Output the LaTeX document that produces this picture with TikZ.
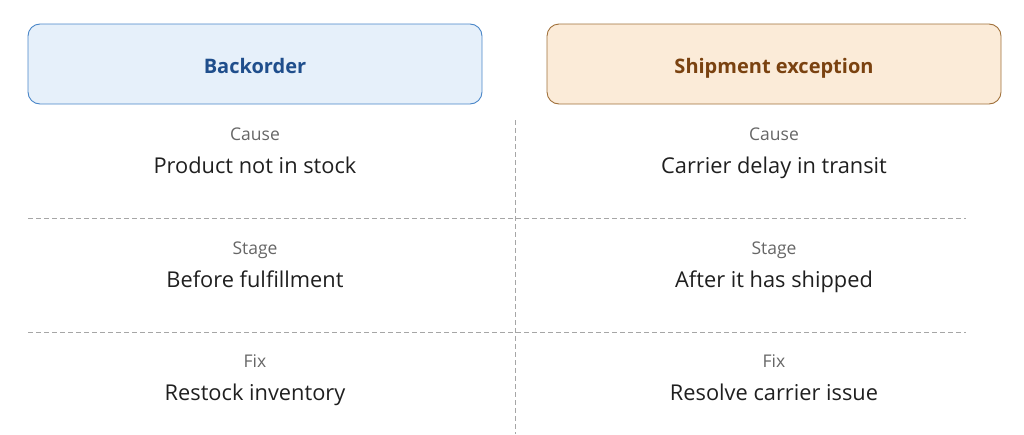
\documentclass[tikz,border=0pt]{standalone}
\usepackage{fontspec}
\setmainfont{Open Sans}
\begin{document}
\begin{tikzpicture}[x=1pt,y=-1pt,
  lab/.style={anchor=base,text=black!60,font=\fontsize{17.5}{20}\selectfont},
  val/.style={anchor=base,text=black!88,font=\fontsize{21.8}{25}\selectfont},
  ttl/.style={anchor=base,font=\bfseries\fontsize{20}{24}\selectfont},
  sep/.style={draw=black!35,dashed,line width=0.8pt,dash pattern=on 5pt off 3pt}]
\useasboundingbox (0,0) rectangle (1024,434);
\definecolor{bf}{HTML}{E6F0FA}\definecolor{bd}{HTML}{4A86C8}\definecolor{bt}{HTML}{1F4E8C}
\definecolor{of}{HTML}{FBEBD8}\definecolor{od}{HTML}{A0703A}\definecolor{ot}{HTML}{7A4210}
\node[draw=bd,fill=bf,rounded corners=12pt,minimum width=454pt,minimum height=80pt,line width=0.9pt] (b) at (255,64) {};
\node[ttl,text=bt] (bl) at (255,73) {Backorder};
\node[draw=od,fill=of,rounded corners=12pt,minimum width=454pt,minimum height=80pt,line width=0.9pt] (s) at (774,64) {};
\node[ttl,text=ot] (sl) at (774,73) {Shipment exception};
\coordinate (v1) at (515,120); \coordinate (v2) at (515,434);
\draw[sep] (v1) -- (v2);
\coordinate (h1a) at (28,218); \coordinate (h1b) at (966,218);
\coordinate (h2a) at (28,332); \coordinate (h2b) at (966,332);
\draw[sep] (h1a) -- (h1b); \draw[sep] (h2a) -- (h2b);
\node[lab] (l1) at (255,140) {Cause}; \node[val] (v11) at (255,173) {Product not in stock};
\node[lab] (l2) at (255,254) {Stage}; \node[val] (v12) at (255,287) {Before fulfillment};
\node[lab] (l3) at (255,367) {Fix}; \node[val] (v13) at (255,400) {Restock inventory};
\node[lab] (r1) at (774,140) {Cause}; \node[val] (v21) at (774,173) {Carrier delay in transit};
\node[lab] (r2) at (774,254) {Stage}; \node[val] (v22) at (774,287) {After it has shipped};
\node[lab] (r3) at (774,367) {Fix}; \node[val] (v23) at (774,400) {Resolve carrier issue};
\end{tikzpicture}
\end{document}
